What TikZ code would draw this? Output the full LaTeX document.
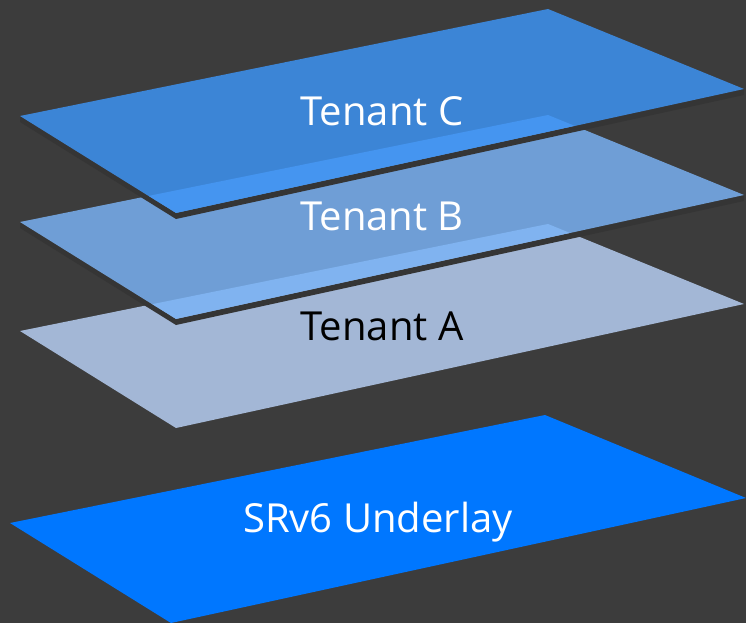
\documentclass[tikz,border=0pt]{standalone}
\usepackage{fontspec}
\setmainfont{Open Sans}
\usepackage{tikz}

\definecolor{bgdark}{RGB}{60,60,60}
\definecolor{shadowdark}{RGB}{53,53,53}
\definecolor{tenantA}{RGB}{163,183,214}
\definecolor{tenantB}{RGB}{122,179,246}
\definecolor{tenantC}{RGB}{61,148,246}
\definecolor{underlay}{RGB}{0,119,255}

\begin{document}
\begin{tikzpicture}[x=1pt, y=-1pt,
    plane/.style={fill opacity=0.83},
    planetext/.style={font=\fontsize{40}{48}\selectfont, anchor=base, inner sep=0pt}]
    \fill[bgdark] (0,0) rectangle (746,623);
    \clip (0,0) rectangle (746,623);
    % underlay plane
    \fill[underlay] (10,523) -- (545,415) -- (746,498) -- (171,623) -- cycle;
    % tenant planes, back to front
    \fill[tenantA] (20,331) -- (548,224) -- (744,304) -- (176,428) -- cycle;
    \foreach \dy/\col in {106/tenantB, 0/tenantC}{
      \begin{scope}[shift={(0,\dy)}]
        \fill[shadowdark] (20,116) -- (176,213) -- (744,89) -- (744,95) -- (176,219) -- (20,122) -- cycle;
        \fill[\col, plane] (20,116) -- (548,9) -- (744,89) -- (176,213) -- cycle;
      \end{scope}
    }
    \node[planetext, white] (tenantc) at (382,125) {Tenant C};
    \node[planetext, white] (tenantb) at (382,230) {Tenant B};
    \node[planetext, black] (tenanta) at (382,340) {Tenant A};
    \node[planetext, white] (srunderlay) at (378,532) {SRv6 Underlay};
\end{tikzpicture}
\end{document}
